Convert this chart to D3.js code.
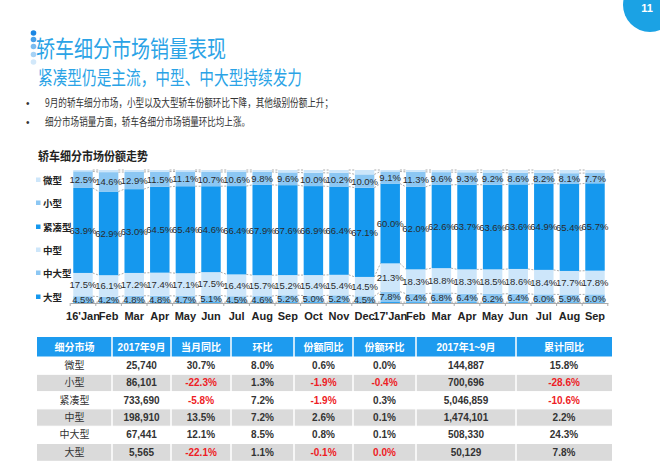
<!DOCTYPE html>
<html><head><meta charset="utf-8">
<script src="https://cdn.jsdelivr.net/npm/d3@7"></script>
<style>body{margin:0;background:#fff;}svg{display:block;}</style>
</head><body>
<svg id="c" width="660" height="469"></svg>
<script>
// ---------- DATA ----------
const months = ["16'Jan","Feb","Mar","Apr","May","Jun","Jul","Aug","Sep","Oct","Nov","Dec","17'Jan","Feb ","Mar ","Apr ","May ","Jun ","Jul ","Aug ","Sep "];
const seriesNames = ["大型","中大型","中型","紧凑型","小型","微型"]; // bottom -> top
const daXing    = [0.6,0.6,0.6,0.6,0.6,0.6,0.6,0.6,0.6,0.6,0.6,0.6,0.7,0.6,0.6,0.6,0.6,0.6,0.5,0.5,0.5];
const zhongDa   = [4.5,4.2,4.8,4.8,4.7,5.1,4.5,4.6,5.2,5.0,5.2,4.5,7.8,6.4,6.8,6.4,6.2,6.4,6.0,5.9,6.0];
const zhongXing = [17.5,16.1,17.2,17.4,17.1,17.5,16.4,15.7,15.2,15.4,15.4,14.5,21.3,18.3,18.8,18.3,18.5,18.6,18.4,17.7,17.8];
const jinCou    = [63.9,62.9,63.0,64.5,65.4,64.6,66.4,67.9,67.6,66.9,66.4,67.1,60.0,62.0,62.6,63.7,63.6,63.6,64.9,65.4,65.7];
const xiaoXing  = [12.5,14.6,12.9,11.5,11.1,10.7,10.6,9.8,9.6,10.0,10.2,10.0,9.1,11.3,9.6,9.3,9.2,8.6,8.2,8.1,7.7];
const weiXing   = [1.0,1.6,1.5,1.2,1.1,1.5,1.5,1.4,1.8,2.1,2.2,3.3,1.1,1.4,1.6,1.7,1.9,2.2,2.0,2.4,2.3];
const labelled  = ["中大型","中型","紧凑型","小型"];
const legendOrder = ["微型","小型","紧凑型","中型","中大型","大型"];

// table
const tblHeader = ["细分市场","2017年9月","当月同比","环比","份额同比","份额环比","2017年1~9月","累计同比"];
const tblSeg    = ["微型","小型","紧凑型","中型","中大型","大型"];
const tblSep    = ["25,740","86,101","733,690","198,910","67,441","5,565"];
const tblYoY    = ["30.7%","-22.3%","-5.8%","13.5%","12.1%","-22.1%"];
const tblMoM    = ["8.0%","1.3%","7.2%","7.2%","8.5%","1.1%"];
const tblShYoY  = ["0.6%","-1.9%","-1.9%","2.6%","0.8%","-0.1%"];
const tblShMoM  = ["0.0%","-0.4%","0.3%","0.1%","0.1%","0.0%"];
const tblShMoMRed = [false,true,false,false,false,true];
const tblYTD    = ["144,887","700,696","5,046,859","1,474,101","508,330","50,129"];
const tblYTDYoY = ["15.8%","-28.6%","-10.6%","2.2%","24.3%","7.8%"];

// ---------- STYLE ----------
const CJK = "'Noto Sans CJK SC','Noto Sans',sans-serif";
const LAT = "'Liberation Sans',Arial,'Noto Sans CJK SC',sans-serif";
const light = "#cde6fa", mid = "#8cc7f3", bright = "#1598ee";
const color = d3.scaleOrdinal().domain(["微型","小型","紧凑型","中型","中大型","大型"])
  .range([light, mid, bright, light, mid, bright]);

const svg = d3.select("#c");

// page number bubble
svg.append("circle").attr("cx",650).attr("cy",5).attr("r",27).attr("fill","#1ba2e4");
svg.append("text").attr("x",647).attr("y",12).attr("text-anchor","middle")
  .attr("font-family",LAT).attr("font-weight","bold").attr("font-size",11).attr("fill","#fff").text("11");

// title dots
const dotCols = ["#1b86e3","#47a0ea","#79bbf0","#a6d2f5","#d2e8fa"];
[33,39.5,46.5,54.5,62].forEach((y,i)=>svg.append("circle").attr("cx",33.5).attr("cy",y).attr("r",2.8).attr("fill",dotCols[i]));

svg.append("text").attr("x",36).attr("y",57).attr("font-family",CJK).attr("font-size",23)
  .attr("fill","#2aa3e6").attr("textLength",190).attr("lengthAdjust","spacingAndGlyphs").text("轿车细分市场销量表现");
svg.append("text").attr("x",38).attr("y",84.5).attr("font-family",CJK).attr("font-size",19.5)
  .attr("fill","#2aa3e6").attr("textLength",264).attr("lengthAdjust","spacingAndGlyphs").text("紧凑型仍是主流，中型、中大型持续发力");

// bullets
const bullets = [["9月的轿车细分市场，小型以及大型轿车份额环比下降，其他级别份额上升；",288,107],
                 ["细分市场销量方面，轿车各细分市场销量环比均上涨。",205,126]];
bullets.forEach(([t,w,y])=>{
  svg.append("text").attr("x",26).attr("y",y).attr("font-family",LAT).attr("font-size",10).attr("fill","#333").text("•");
  svg.append("text").attr("x",45).attr("y",y).attr("font-family",CJK).attr("font-size",11.5).attr("fill","#333")
    .attr("textLength",w).attr("lengthAdjust","spacingAndGlyphs").text(t);
});

// chart title
svg.append("text").attr("x",38).attr("y",161).attr("font-family",CJK).attr("font-weight","bold").attr("font-size",12)
  .attr("fill","#222").attr("textLength",110).attr("lengthAdjust","spacingAndGlyphs").text("轿车细分市场份额走势");

// ---------- CHART ----------
const seriesData = {"大型":daXing,"中大型":zhongDa,"中型":zhongXing,"紧凑型":jinCou,"小型":xiaoXing,"微型":weiXing};
const rows = months.map((m,i)=>{const o={m}; seriesNames.forEach(s=>o[s]=seriesData[s][i]); return o;});
const stack = d3.stack().keys(seriesNames).offset(d3.stackOffsetExpand)(rows);

const x = d3.scaleBand().domain(months).range([70.2,607.8]).paddingInner(0.24).paddingOuter(0.12);
const y = d3.scaleLinear().domain([0,1]).range([303,170]);

const g = svg.append("g");
stack.forEach(layer=>{
  g.append("g").selectAll("rect").data(layer).join("rect")
    .attr("x",d=>x(d.data.m)).attr("width",x.bandwidth())
    .attr("y",d=>y(d[1])).attr("height",d=>y(d[0])-y(d[1]))
    .attr("fill",color(layer.key));
});

// dashed series lines
const conn = svg.append("g").attr("stroke","#8a8a8a").attr("stroke-width",0.7).attr("stroke-dasharray","2,1.5").attr("fill","none");
stack.forEach(layer=>{
  for(let i=0;i<layer.length-1;i++){
    conn.append("line")
      .attr("x1",x(months[i])+x.bandwidth()).attr("x2",x(months[i+1]))
      .attr("y1",y(layer[i][1])).attr("y2",y(layer[i+1][1]));
  }
});

// labels
stack.filter(l=>labelled.includes(l.key)).forEach(layer=>{
  g.append("g").selectAll("text").data(layer).join("text")
    .attr("x",d=>x(d.data.m)+x.bandwidth()/2)
    .attr("y",d=>y((d[0]+d[1])/2)+3.5)
    .attr("text-anchor","middle").attr("font-family",LAT).attr("font-size",9.5).attr("fill","#2a2a2a")
    .text(d=>d3.format(".1f")(d.data[layer.key])+"%");
});

// x axis
const xa = svg.append("g").attr("transform","translate(0,303)")
  .call(d3.axisBottom(x).tickSize(0).tickPadding(9));
xa.select(".domain").attr("stroke","#aaa");
xa.selectAll("text").attr("font-family",LAT).attr("font-weight","bold").attr("font-size",11).attr("fill","#222");
// small ticks between categories
const step = x.step();
months.forEach((m,i)=>{
  if(i===0) return;
  const tx = x(m) - (step - x.bandwidth())/2;
  svg.append("line").attr("x1",tx).attr("x2",tx).attr("y1",303).attr("y2",306).attr("stroke","#aaa");
});
svg.append("line").attr("x1",70.2).attr("x2",70.2).attr("y1",303).attr("y2",306).attr("stroke","#aaa");
svg.append("line").attr("x1",607.8).attr("x2",607.8).attr("y1",303).attr("y2",306).attr("stroke","#aaa");

// legend
const legY = [180,203,227,250,273,297];
legendOrder.forEach((s,i)=>{
  svg.append("rect").attr("x",36).attr("y",legY[i]-2.5).attr("width",4.5).attr("height",4.5).attr("fill",color(s));
  svg.append("text").attr("x",43).attr("y",legY[i]+4).attr("font-family",CJK).attr("font-weight","bold")
    .attr("font-size",9.5).attr("fill","#222").text(s);
});

// ---------- TABLE ----------
const colB = [37,112,171,231,294,353,416,516,612];
const rowB = [337,357,374.3,391.6,408.9,426.2,443.5,460.8];
const tg = svg.append("g");
// header
tg.append("rect").attr("x",colB[0]).attr("y",rowB[0]).attr("width",colB[8]-colB[0]).attr("height",rowB[1]-rowB[0]).attr("fill","#1d9bef");
tblSeg.forEach((s,r)=>{
  if(r%2===1) tg.append("rect").attr("x",colB[0]).attr("y",rowB[r+1]).attr("width",colB[8]-colB[0])
    .attr("height",rowB[r+2]-rowB[r+1]).attr("fill","#dadada");
});
// separators
for(let c=1;c<8;c++) tg.append("line").attr("x1",colB[c]).attr("x2",colB[c]).attr("y1",rowB[0]).attr("y2",rowB[7]).attr("stroke","#fff").attr("stroke-width",1.5);
for(let r=1;r<7;r++) tg.append("line").attr("x1",colB[0]).attr("x2",colB[8]).attr("y1",rowB[r]).attr("y2",rowB[r]).attr("stroke","#fff").attr("stroke-width",1);

const cx = c => (colB[c]+colB[c+1])/2;
tblHeader.forEach((h,c)=>{
  tg.append("text").attr("x",cx(c)).attr("y",(rowB[0]+rowB[1])/2+3.5).attr("text-anchor","middle")
    .attr("font-family",LAT).attr("font-weight","bold").attr("font-size",10).attr("fill","#fff").text(h);
});
const cols = [tblSeg,tblSep,tblYoY,tblMoM,tblShYoY,tblShMoM,tblYTD,tblYTDYoY];
cols.forEach((col,c)=>{
  col.forEach((v,r)=>{
    let red = v.startsWith("-");
    if(c===5) red = tblShMoMRed[r];
    tg.append("text").attr("x",cx(c)).attr("y",(rowB[r+1]+rowB[r+2])/2+3.5).attr("text-anchor","middle")
      .attr("font-family", c===0?CJK:LAT).attr("font-weight", c===0?"normal":"bold").attr("font-size",10)
      .attr("fill", red?"#ee1c25":"#333").text(v);
  });
});
</script>
</body></html>
